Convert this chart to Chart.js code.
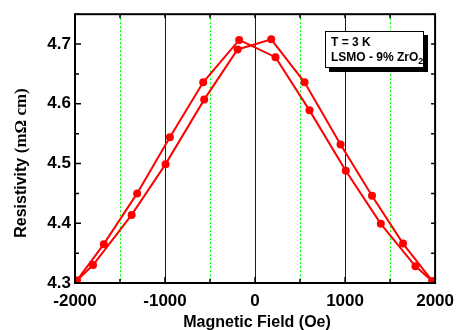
<!DOCTYPE html>
<html>
<head>
<meta charset="utf-8">
<script src="https://cdn.jsdelivr.net/npm/chart.js@4.4.0/dist/chart.umd.min.js"></script>
<style>
  html, body { margin: 0; padding: 0; background: #fff; }
  canvas { display: block; }
</style>
</head>
<body>
<canvas id="rhoCanvas" width="462" height="330"></canvas>
<script>
// field sweep -2000 -> +2000 Oe
let sweepUpField = [-1980, -1680, -1310, -946, -576, -176, 227, 605, 1008, 1397, 1782, 1970];
let sweepUpRho   = [4.304, 4.365, 4.450, 4.544, 4.636, 4.707, 4.678, 4.589, 4.488, 4.399, 4.328, 4.303];
// field sweep +2000 -> -2000 Oe
let sweepDownField = [1970, 1644, 1299, 950, 550, 180, -194, -565, -994, -1371, -1800, -1980];
let sweepDownRho   = [4.303, 4.366, 4.446, 4.532, 4.636, 4.708, 4.691, 4.607, 4.499, 4.414, 4.330, 4.304];

let xTicks = [-2000, -1000, 0, 1000, 2000];
let yTicks = [4.3, 4.4, 4.5, 4.6, 4.7];
let blueLines = [-1000, 0, 1000];
let greenLines = [-1500, -500, 500, 1500];

let toPoints = function (xs, ys) {
    return xs.map(function (x, i) { return { x: x, y: ys[i] }; });
};

let frameFont = "'Liberation Sans', Arial, sans-serif";

let decorPlugin = {
    id: 'decor',
    beforeDatasetsDraw: function (chart) {
        let ctx = chart.ctx;
        let a = chart.chartArea;
        let xs = chart.scales.x;
        ctx.save();
        ctx.lineWidth = 1;
        blueLines.forEach(function (v) {
            let px = Math.round(xs.getPixelForValue(v)) + 0.5;
            ctx.strokeStyle = '#0000ff';
            ctx.setLineDash([]);
            ctx.beginPath(); ctx.moveTo(px, a.top); ctx.lineTo(px, a.bottom); ctx.stroke();
        });
        greenLines.forEach(function (v) {
            let px = Math.round(xs.getPixelForValue(v)) + 0.5;
            ctx.strokeStyle = '#00ff00';
            ctx.setLineDash([2, 2]);
            ctx.beginPath(); ctx.moveTo(px, a.top); ctx.lineTo(px, a.bottom); ctx.stroke();
        });
        ctx.restore();
    },
    afterDatasetsDraw: function (chart) {
        let ctx = chart.ctx;
        let a = chart.chartArea;
        let xs = chart.scales.x;
        let ys = chart.scales.y;
        ctx.save();
        ctx.strokeStyle = '#000';
        ctx.setLineDash([]);
        // inward ticks
        ctx.lineWidth = 1.5;
        for (let v = -2000; v <= 2000; v += 500) {
            let px = xs.getPixelForValue(v);
            let major = v % 1000 === 0;
            ctx.beginPath();
            ctx.moveTo(px, a.bottom); ctx.lineTo(px, a.bottom - (major ? 6 : 4));
            ctx.moveTo(px, a.top); ctx.lineTo(px, a.top + 4);
            ctx.stroke();
        }
        for (let k = 0; k <= 9; k++) {
            let v = 4.3 + k * 0.05;
            let py = ys.getPixelForValue(v);
            let major = k % 2 === 0;
            ctx.beginPath();
            ctx.moveTo(a.left, py); ctx.lineTo(a.left + (major ? 6 : 4), py);
            ctx.moveTo(a.right, py); ctx.lineTo(a.right - 4, py);
            ctx.stroke();
        }
        // frame
        ctx.lineWidth = 2;
        ctx.strokeRect(a.left, a.top, a.right - a.left, a.bottom - a.top);
        ctx.restore();
    },
    afterDraw: function (chart) {
        let ctx = chart.ctx;
        let a = chart.chartArea;
        ctx.save();
        // label box with shadow
        ctx.fillStyle = '#000';
        ctx.fillRect(329, 35, 99, 37);
        ctx.fillStyle = '#fff';
        ctx.fillRect(325, 31, 99, 37);
        ctx.strokeStyle = '#000';
        ctx.lineWidth = 1;
        ctx.strokeRect(325.5, 31.5, 98, 36);
        ctx.fillStyle = '#000';
        ctx.textAlign = 'left';
        ctx.textBaseline = 'alphabetic';
        ctx.font = 'bold 12px ' + frameFont;
        ctx.fillText('T = 3 K', 331, 46);
        let line2 = 'LSMO - 9% ZrO';
        ctx.fillText(line2, 331, 61);
        let w2 = ctx.measureText(line2).width;
        ctx.font = 'bold 9px ' + frameFont;
        ctx.fillText('2', 331 + w2, 64);

        // x title
        ctx.font = 'bold 16px ' + frameFont;
        ctx.textAlign = 'center';
        ctx.fillText('Magnetic Field (Oe)', (a.left + a.right) / 2 + 2, 327);

        // y title, rotated
        ctx.translate(26, 163);
        ctx.rotate(-Math.PI / 2);
        let partA = 'Resistivity ';
        let partB = '(m\u03A9 cm)';
        ctx.font = 'bold 16px ' + frameFont;
        let wa = ctx.measureText(partA).width;
        ctx.font = 'bold 17px "Liberation Serif", "Times New Roman", serif';
        let wb = ctx.measureText(partB).width;
        let x0 = -(wa + wb) / 2;
        ctx.textAlign = 'left';
        ctx.font = 'bold 16px ' + frameFont;
        ctx.fillText(partA, x0, 0);
        ctx.font = 'bold 17px "Liberation Serif", "Times New Roman", serif';
        ctx.fillText(partB, x0 + wa, 0);
        ctx.restore();
    }
};

let drawChart = function () {
    let ctx = document.getElementById('rhoCanvas').getContext('2d');
    window.rhoChart = new Chart(ctx, {
        type: 'scatter',
        data: {
            datasets: [{
                data: toPoints(sweepUpField, sweepUpRho),
                showLine: true,
                borderColor: '#ff0000',
                backgroundColor: '#ff0000',
                borderWidth: 2,
                pointRadius: 4,
                pointBorderWidth: 0,
                tension: 0
            }, {
                data: toPoints(sweepDownField, sweepDownRho),
                showLine: true,
                borderColor: '#ff0000',
                backgroundColor: '#ff0000',
                borderWidth: 2,
                pointRadius: 4,
                pointBorderWidth: 0,
                tension: 0
            }]
        },
        options: {
            responsive: false,
            animation: false,
            layout: { padding: { left: 0, right: 20, top: 13, bottom: 0 } },
            plugins: { legend: { display: false }, tooltip: { enabled: false } },
            scales: {
                x: {
                    type: 'linear',
                    min: -2000,
                    max: 2000,
                    grid: { display: false, drawTicks: false },
                    border: { display: false },
                    afterBuildTicks: function (scale) {
                        scale.ticks = xTicks.map(function (v) { return { value: v }; });
                    },
                    afterFit: function (scale) { scale.height = 47; },
                    ticks: {
                        padding: 8,
                        maxRotation: 0,
                        color: '#000',
                        font: { family: frameFont, size: 17, weight: 'bold' },
                        callback: function (v) { return String(v); }
                    }
                },
                y: {
                    type: 'linear',
                    min: 4.3,
                    max: 4.75,
                    grid: { display: false, drawTicks: false },
                    border: { display: false },
                    afterBuildTicks: function (scale) {
                        scale.ticks = yTicks.map(function (v) { return { value: v }; });
                    },
                    afterFit: function (scale) { scale.width = 75; },
                    ticks: {
                        padding: 4,
                        color: '#000',
                        font: { family: frameFont, size: 17, weight: 'bold' },
                        callback: function (v) { return Number(v).toFixed(1); }
                    }
                }
            }
        },
        plugins: [decorPlugin]
    });
};

window.onload = function () {
    drawChart();
};
</script>
</body>
</html>
